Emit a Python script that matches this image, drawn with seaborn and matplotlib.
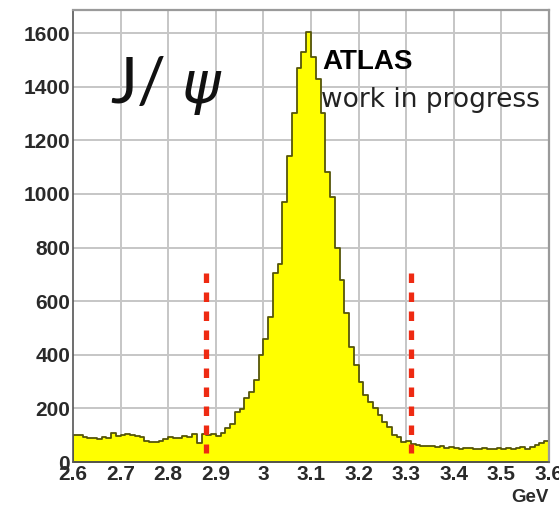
import numpy as np
import pandas as pd
import matplotlib
matplotlib.use("Agg")
import matplotlib.pyplot as plt
import seaborn as sns

# ---------------- data ----------------
bin_edges = [round(2.60 + 0.01 * i, 2) for i in range(101)]
counts = [
    102, 100, 92, 88, 90, 86, 92, 90, 110, 96,        # 2.60-2.69
    102, 106, 100, 96, 92, 80, 74, 76, 80, 84,        # 2.70-2.79
    92, 88, 90, 96, 92, 106, 72, 104, 102, 104,       # 2.80-2.89
    98, 108, 127, 140, 185, 198, 240, 262, 305, 400,  # 2.90-2.99
    460, 540, 705, 740, 970, 1140, 1300, 1470, 1530, 1605,  # 3.00-3.09
    1510, 1430, 1300, 1080, 990, 800, 680, 556, 430, 362,   # 3.10-3.19
    298, 250, 222, 200, 175, 150, 130, 102, 92, 74,   # 3.20-3.29
    78, 68, 62, 60, 60, 58, 56, 58, 52, 56,           # 3.30-3.39
    54, 50, 52, 54, 48, 50, 52, 48, 50, 52,           # 3.40-3.49
    50, 54, 50, 52, 56, 50, 56, 62, 70, 78,           # 3.50-3.59
]
bin_centers = [round((a + b) / 2, 3) for a, b in zip(bin_edges[:-1], bin_edges[1:])]

cut_positions = [2.88, 3.31]
cut_range = [705, 34]

x_ticks = [2.6, 2.7, 2.8, 2.9, 3.0, 3.1, 3.2, 3.3, 3.4, 3.5, 3.6]
x_tick_labels = ["2.6", "2.7", "2.8", "2.9", "3", "3.1", "3.2", "3.3", "3.4", "3.5", "3.6"]
y_ticks = [0, 200, 400, 600, 800, 1000, 1200, 1400, 1600]
y_tick_labels = ["0", "200", "400", "600", "800", "1000", "1200", "1400", "1600"]

df = pd.DataFrame({"mass": bin_centers, "count": counts})

# ---------------- figure ----------------
sns.set_style("white")
plt.rcParams["font.family"] = ["Liberation Sans", "DejaVu Sans"]

fig = plt.figure(figsize=(5.59, 5.07), dpi=100)
ax = fig.add_axes([73 / 559, 45 / 507, 476 / 559, 452 / 507])

# grid behind the histogram
for xv in x_ticks[1:-1]:
    ax.axvline(xv, color="#c6c6c6", lw=1.4, zorder=0.3)
for yv in y_ticks[1:]:
    ax.axhline(yv, color="#c6c6c6", lw=1.4, zorder=0.3)

sns.histplot(data=df, x="mass", weights="count", bins=bin_edges,
             element="step", fill=True, color="#ffff00", alpha=1,
             facecolor="#ffff00", edgecolor="#55550a", linewidth=1.3,
             ax=ax, zorder=1)

ax.vlines(cut_positions, cut_range[0], cut_range[1], colors="#ee2a12",
          linewidth=3.8, linestyles=(0, (1.8, 1.8)), zorder=3)

ax.set_xlim(2.6, 3.6)
ax.set_ylim(0, 1686)

ax.set_xticks(x_ticks)
ax.set_xticklabels(x_tick_labels)
ax.set_yticks(y_ticks)
ax.set_yticklabels(y_tick_labels)
ax.set_xticks(np.round(np.arange(2.6, 3.6001, 0.02), 2), minor=True)
ax.set_yticks(np.arange(0, 1651, 50), minor=True)

ax.tick_params(axis="both", which="major", direction="in", length=11,
               width=1.2, color="#444444", labelsize=15, labelcolor="#2a2a2a")
ax.tick_params(axis="both", which="minor", direction="in", length=6,
               width=1.1, color="#444444")
ax.tick_params(axis="x", pad=2)
ax.tick_params(axis="y", pad=2)
for lab in ax.get_xticklabels() + ax.get_yticklabels():
    lab.set_fontweight("bold")

for side in ["top", "right"]:
    ax.spines[side].set_color("#9a9a9a")
    ax.spines[side].set_linewidth(1.6)
for side in ["left", "bottom"]:
    ax.spines[side].set_color("#555555")
    ax.spines[side].set_linewidth(1.2)

ax.set_ylabel("")
ax.set_xlabel("GeV", loc="right", fontsize=13.5, fontweight="bold",
              color="#2a2a2a", labelpad=4)

# annotations
fig.text(110 / 559, 1 - 103 / 507, "J/", fontsize=46, fontweight="normal",
         family=["Lato", "DejaVu Sans"], color="#111111",
         va="baseline", ha="left")
fig.text(181 / 559, 1 - 103 / 507, r"$\psi$", fontsize=42,
         color="#111111", va="baseline", ha="left")
fig.text(322 / 559, 1 - 69 / 507, "ATLAS", fontsize=20, fontweight="bold",
         color="#000000", va="baseline", ha="left")
fig.text(321 / 559, 1 - 107 / 507, "work in progress", fontsize=19,
         family="DejaVu Sans", color="#222222", va="baseline", ha="left")

fig.savefig("out.png", dpi=100)
